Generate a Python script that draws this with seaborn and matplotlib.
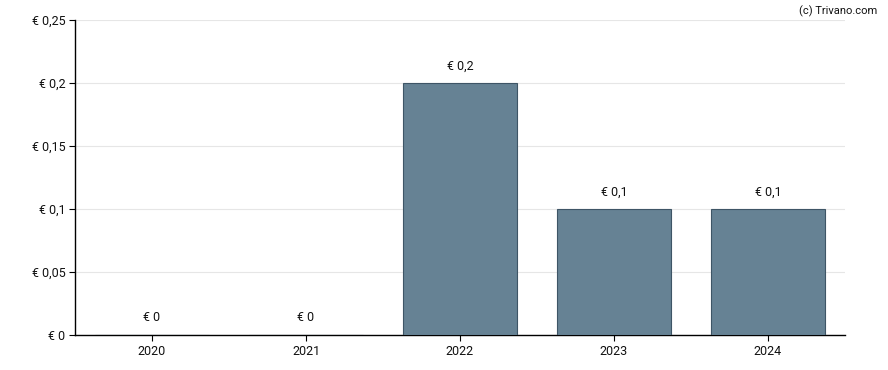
import numpy as np
import pandas as pd
import seaborn as sns
import matplotlib
matplotlib.use("Agg")
import matplotlib.pyplot as plt

# Dividenden pro Jahr
years = ["2020", "2021", "2022", "2023", "2024"]
dividends = [0.0, 0.0, 0.2, 0.1, 0.1]
bar_labels = ["€ 0", "€ 0", "€ 0,2", "€ 0,1", "€ 0,1"]
yticks = [0, 0.05, 0.1, 0.15, 0.2, 0.25]
ytick_labels = ["€ 0", "€ 0,05", "€ 0,1", "€ 0,15", "€ 0,2", "€ 0,25"]

df = pd.DataFrame({"jahr": years, "dividende": dividends})

sns.set_style("white")
plt.rcParams["font.family"] = ["Roboto", "DejaVu Sans"]

fig = plt.figure(figsize=(8.88, 3.7), dpi=100)
ax = fig.add_axes([0.0845, 0.0946, 0.867, 0.851])

sns.barplot(data=df, x="jahr", y="dividende", color="#668294",
            edgecolor="#3e5566", linewidth=0.8, width=0.74,
            saturation=1, ax=ax, zorder=3)

for i, (v, lab) in enumerate(zip(dividends, bar_labels)):
    ax.text(i, v + 0.0085, lab, ha="center", va="bottom", fontsize=9, color="#111111")

ax.set_ylim(0, 0.25)
ax.set_xlim(-0.5, 4.5)
ax.set_yticks(yticks)
ax.set_yticklabels(ytick_labels)
ax.yaxis.grid(True, color="#e6e6e6", linewidth=0.8, zorder=0)
ax.set_axisbelow(True)
ax.set_xlabel("")
ax.set_ylabel("")
for s in ["top", "right"]:
    ax.spines[s].set_visible(False)
for s in ["left", "bottom"]:
    ax.spines[s].set_color("black")
    ax.spines[s].set_linewidth(1.0)
ax.tick_params(axis="both", length=4, width=0.8, color="black",
               labelsize=9, labelcolor="#111111", direction="out", pad=3)
ax.tick_params(axis="x", bottom=True)
ax.tick_params(axis="y", left=True)

fig.text(0.988, 0.985, "(c) Trivano.com", ha="right", va="top", fontsize=8, color="#111111")

fig.savefig("out.png", dpi=100)
